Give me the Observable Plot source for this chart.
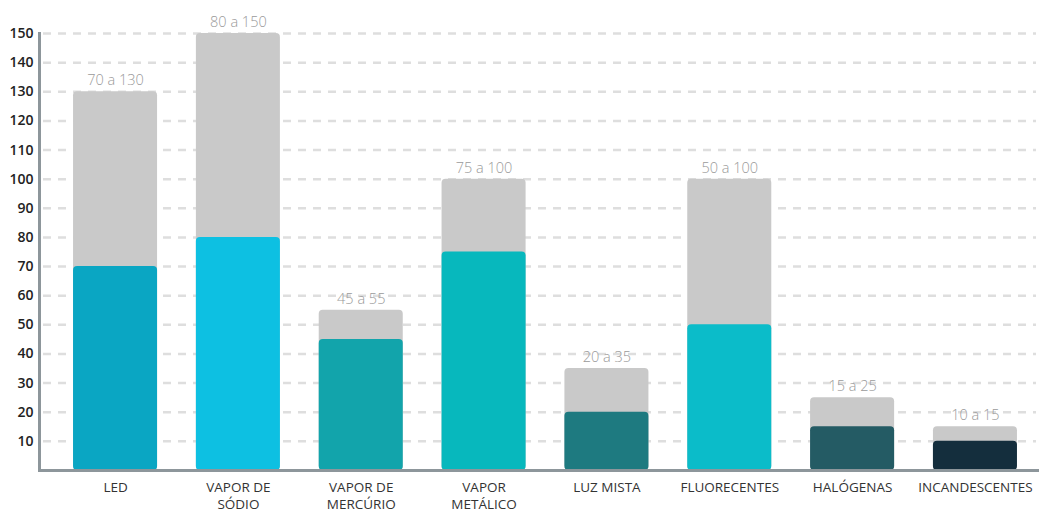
<!DOCTYPE html>
<html>
<head>
<meta charset="utf-8">
<script src="https://cdn.jsdelivr.net/npm/d3@7"></script>
<script src="https://cdn.jsdelivr.net/npm/@observablehq/plot@0.6"></script>
<style>
  html, body { margin: 0; padding: 0; background: #fff; }
  #chart svg { display: block; }
</style>
</head>
<body>
<div id="chart"></div>
<script>
const categories = ["LED", "VAPOR DE\nSÓDIO", "VAPOR DE\nMERCÚRIO", "VAPOR\nMETÁLICO", "LUZ MISTA", "FLUORECENTES", "HALÓGENAS", "INCANDESCENTES"];
const minValues = [70, 80, 45, 75, 20, 50, 15, 10];
const maxValues = [130, 150, 55, 100, 35, 100, 25, 15];
const barColors = ["#0aa6c3", "#0dc0e2", "#12a4ab", "#07b8bd", "#1e7a80", "#0bbcc9", "#245b64", "#142e3d"];
const yTicks = [10, 20, 30, 40, 50, 60, 70, 80, 90, 100, 110, 120, 130, 140, 150];

const data = categories.map((c, i) => ({
  cat: c,
  min: minValues[i],
  max: maxValues[i],
  color: barColors[i],
  label: `${minValues[i]} a ${maxValues[i]}`
}));

const chart = Plot.plot({
  width: 1039,
  height: 512,
  marginTop: 33,
  marginBottom: 42,
  marginLeft: 54,
  marginRight: 3,
  style: { fontFamily: "'Open Sans', sans-serif", background: "#fff" },
  x: { domain: categories, paddingInner: 0.316, paddingOuter: 0.155, round: false, label: null },
  y: { domain: [0, 150], label: null },
  marks: [
    Plot.ruleY(yTicks, { stroke: "#dedede", strokeWidth: 2.5, strokeDasharray: "8,7", insetLeft: -11 }),
    Plot.barY(data, { x: "cat", y: "max", fill: "#c9c9c9", rx: 4 }),
    Plot.barY(data, { x: "cat", y: "min", fill: "color", rx: 4 }),
    Plot.text(data, { x: "cat", y: "max", text: "label", dy: -11, fill: "#9a9a9a", fontSize: 14.5, fontWeight: 300 }),
    Plot.ruleY([0], { stroke: "#8d969b", strokeWidth: 3, insetLeft: -16, insetRight: -3 }),
    Plot.frame({ anchor: "left", dx: -15, stroke: "#8d969b", strokeWidth: 3 }),
    Plot.axisY({ ticks: yTicks, tickSize: 0, tickPadding: 21, fontSize: 14, fontWeight: 600, fill: "#222", label: null }),
    Plot.axisX({ tickSize: 0, tickPadding: 9, fontSize: 13.5, fill: "#333", lineHeight: 1.27, label: null, textAnchor: "middle" })
  ]
});
document.getElementById("chart").appendChild(chart);
</script>
</body>
</html>
